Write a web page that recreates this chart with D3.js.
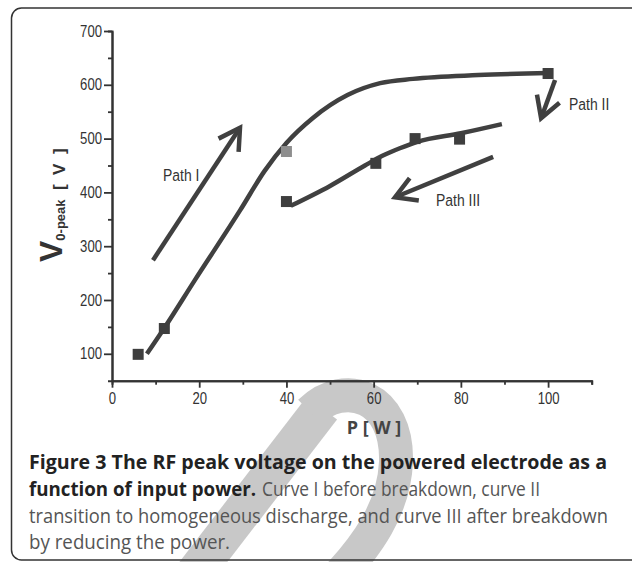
<!DOCTYPE html>
<html>
<head>
<meta charset="utf-8">
<script src="https://cdn.jsdelivr.net/npm/d3@7"></script>
<style>
  html, body { margin: 0; padding: 0; background: #fff; }
  svg { display: block; }
</style>
</head>
<body>
<svg id="chart" width="632" height="562"></svg>
<script>
// ---------- data ----------
const xMajorTicks = [0, 20, 40, 60, 80, 100];
const xMinorTicks = [10, 30, 50, 70, 90, 110];
const yMajorTicks = [100, 200, 300, 400, 500, 600, 700];
const yMinorTicks = [150, 250, 350, 450, 550, 650];

// measured points (squares)
const curveIPower   = [6, 12, 40, 100];
const curveIVoltage = [99, 147, 476, 621];
const curveIIIPower   = [40, 60.5, 69.5, 79.7];
const curveIIIVoltage = [383, 454, 500, 499];

// hand-drawn trend lines
const lineIPower   = [8, 12, 19, 29.4, 35, 40, 46, 54, 61.5, 69, 84, 100];
const lineIVoltage = [100, 148, 237, 367, 440, 492, 538, 581, 603, 611, 618, 622];
const lineIIIPower   = [41, 50, 58, 62, 66, 70, 80, 89.4];
const lineIIIVoltage = [375, 412, 450, 468, 482, 494, 510, 527];

// annotation arrows: start and tip in data units
const arrowNames = ["Path I", "Path II", "Path III"];
const arrowStartP = [9.4, 101.6, 87.4];
const arrowStartV = [274, 609, 466];
const arrowTipP   = [29.35, 98.4, 64.9];
const arrowTipV   = [520, 538, 391];
const labelP = [11.7, 104.8, 74.3];
const labelV = [422, 553, 374];

const captionBold1 = "Figure 3 The RF peak voltage on the powered electrode as a";
const captionBold2 = "function of input power.";
const captionReg2 = "Curve I before breakdown, curve II";
const captionReg3 = "transition to homogeneous discharge, and curve III after breakdown";
const captionReg4 = "by reducing the power.";

// ---------- drawing ----------
const svg = d3.select("#chart");
const x = d3.scaleLinear().domain([0, 110]).range([112, 591.7]);
const y = d3.scaleLinear().domain([50, 700]).range([380.7, 31]);
const ink = "#404040";
const narrow = 0.82;

// watermark (stylised "D")
const wm = svg.append("g").attr("stroke", "#c8c8c8").attr("fill", "none");
wm.append("path").attr("d", "M188,582 L322,408").attr("stroke-width", 38);
wm.append("path").attr("d", "M310,412 C345,378 398,396 396,462 C394,508 368,546 330,585").attr("stroke-width", 34);

// frame
svg.append("rect")
  .attr("x", 11.5).attr("y", 8).attr("width", 660).attr("height", 552)
  .attr("rx", 10).attr("ry", 10)
  .attr("fill", "none").attr("stroke", "#333").attr("stroke-width", 1.5);

const tickFont = "'Liberation Sans', Arial, sans-serif";

function styleAxis(g, isY) {
  g.selectAll("path.domain").attr("stroke", "#333").attr("stroke-width", 2);
  g.selectAll(".tick line").attr("stroke", "#333").attr("stroke-width", 1.8);
  const t = g.selectAll(".tick text").attr("font-family", tickFont).attr("font-size", 16).attr("fill", "#333")
    .attr("transform", `scale(${narrow},1)`);
  if (isY) t.attr("x", -10 / narrow);
}

const gxMinor = svg.append("g").attr("transform", `translate(0,${y(50)})`)
  .call(d3.axisBottom(x).tickValues(xMinorTicks).tickSize(4).tickFormat(""));
styleAxis(gxMinor, false);
const gx = svg.append("g").attr("transform", `translate(0,${y(50)})`)
  .call(d3.axisBottom(x).tickValues(xMajorTicks).tickSize(7).tickPadding(5).tickSizeOuter(0));
styleAxis(gx, false);

const gyMinor = svg.append("g").attr("transform", `translate(${x(0)},0)`)
  .call(d3.axisLeft(y).tickValues(yMinorTicks).tickSize(4).tickFormat(""));
styleAxis(gyMinor, true);
const gy = svg.append("g").attr("transform", `translate(${x(0)},0)`)
  .call(d3.axisLeft(y).tickValues(yMajorTicks).tickSize(8).tickPadding(2).tickSizeOuter(0));
styleAxis(gy, true);

// axis titles
svg.append("text")
  .attr("x", 374).attr("y", 434)
  .attr("text-anchor", "middle")
  .attr("font-family", "'Open Sans', sans-serif")
  .attr("font-weight", "bold").attr("font-size", 18).attr("fill", "#444")
  .text("P [ W ]");

const yl = svg.append("text")
  .attr("transform", "translate(62,262) rotate(-90)")
  .attr("font-family", "'Liberation Sans', Arial, sans-serif")
  .attr("font-weight", "bold").attr("fill", "#333");
yl.append("tspan").attr("font-size", 32).text("V");
yl.append("tspan").attr("font-size", 13).attr("dy", 3).text("0-peak");
yl.append("tspan").attr("font-size", 17).attr("dy", 0).text("\u00A0\u00A0[\u00A0\u00A0V\u00A0\u00A0]");

// lines
const line = d3.line().x(d => x(d[0])).y(d => y(d[1])).curve(d3.curveMonotoneX);
svg.append("path")
  .datum(lineIPower.map((p, i) => [p, lineIVoltage[i]]))
  .attr("d", line).attr("fill", "none").attr("stroke", ink).attr("stroke-width", 4.5);
svg.append("path")
  .datum(lineIIIPower.map((p, i) => [p, lineIIIVoltage[i]]))
  .attr("d", line).attr("fill", "none").attr("stroke", ink).attr("stroke-width", 4.5);

// markers
const ms = 11;
const ptsI = curveIPower.map((p, i) => ({p, v: curveIVoltage[i], light: i === 2}));
const ptsIII = curveIIIPower.map((p, i) => ({p, v: curveIIIVoltage[i], light: false}));
svg.selectAll("rect.mk").data(ptsI.concat(ptsIII)).enter().append("rect")
  .attr("class", "mk")
  .attr("x", d => x(d.p) - ms / 2).attr("y", d => y(d.v) - ms / 2)
  .attr("width", ms).attr("height", ms)
  .attr("fill", d => d.light ? "#8e8e8e" : "#3e3e3e");

// arrows
const headLen = 24, headAng = 30 * Math.PI / 180;
arrowNames.forEach((name, i) => {
  const x1 = x(arrowStartP[i]), y1 = y(arrowStartV[i]);
  const x2 = x(arrowTipP[i]), y2 = y(arrowTipV[i]);
  const a = Math.atan2(y1 - y2, x1 - x2);
  svg.append("line").attr("x1", x1).attr("y1", y1).attr("x2", x2).attr("y2", y2)
    .attr("stroke", ink).attr("stroke-width", 4.5);
  const w1 = [x2 + headLen * Math.cos(a + headAng), y2 + headLen * Math.sin(a + headAng)];
  const w2 = [x2 + headLen * Math.cos(a - headAng), y2 + headLen * Math.sin(a - headAng)];
  svg.append("path").attr("d", `M${w1[0]},${w1[1]}L${x2},${y2}L${w2[0]},${w2[1]}`)
    .attr("fill", "none").attr("stroke", ink).attr("stroke-width", 4.5)
    .attr("stroke-linejoin", "miter");
  svg.append("text")
    .attr("transform", `translate(${x(labelP[i])},${y(labelV[i])}) scale(${narrow},1)`)
    .attr("font-family", tickFont).attr("font-size", 17).attr("fill", "#333")
    .text(name);
});

// caption
const capFont = "'Open Sans', 'Noto Sans', sans-serif";
const capSize = 19.5;
const cap = svg.append("g");
function capLine(txt, x0, yy, x1, bold) {
  cap.append("text").attr("x", x0).attr("y", yy)
    .attr("font-family", capFont).attr("font-size", capSize)
    .attr("font-weight", bold ? "bold" : "normal")
    .attr("fill", bold ? "#222" : "#555")
    .attr("textLength", x1 - x0).attr("lengthAdjust", "spacingAndGlyphs")
    .text(txt);
}
capLine(captionBold1, 29, 469, 607, true);
capLine(captionBold2, 29, 496, 256, true);
capLine(captionReg2, 262, 496, 540, false);
capLine(captionReg3, 29, 523, 608, false);
capLine(captionReg4, 29, 549, 230, false);
</script>
</body>
</html>
